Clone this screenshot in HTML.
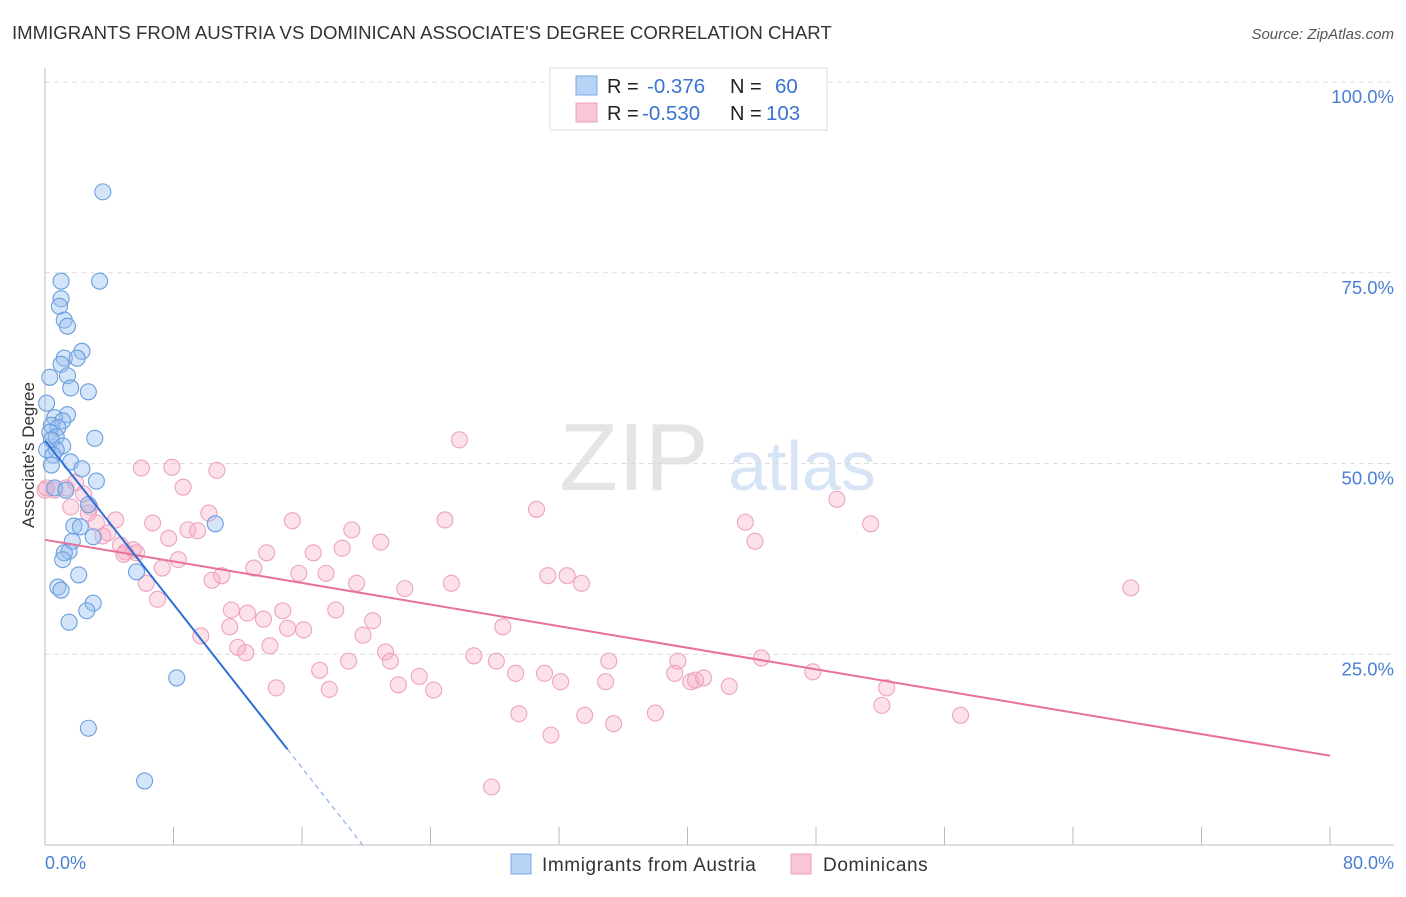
<!DOCTYPE html>
<html><head><meta charset="utf-8">
<style>
body{margin:0;background:#fff;font-family:"Liberation Sans",sans-serif;}
svg text{font-family:"Liberation Sans",sans-serif;}
</style></head>
<body>
<svg id="chart" width="1406" height="892" xmlns="http://www.w3.org/2000/svg">
<text x="12" y="39" font-size="18.6" fill="#333">IMMIGRANTS FROM AUSTRIA VS DOMINICAN ASSOCIATE'S DEGREE CORRELATION CHART</text>
<text x="1394" y="39" font-size="15" fill="#555" font-style="italic" text-anchor="end">Source: ZipAtlas.com</text>
<g>
<text x="634" y="490" font-size="96" fill="#e4e4e4" font-family="Liberation Serif" text-anchor="middle">ZIP</text>
<text x="802" y="490" font-size="70" fill="#d6e4f5" text-anchor="middle">atlas</text>
</g>
<g id="grid"></g>
<g id="axes"></g>
<g id="pinkPts"></g>
<g id="bluePts"></g>
<g id="lines"></g>
<text transform="translate(34,455) rotate(-90)" font-size="17" fill="#333" text-anchor="middle">Associate's Degree</text>
<text x="45" y="869" font-size="18" fill="#4a7fd4">0.0%</text>
<text x="1394" y="869" font-size="18" fill="#4a7fd4" text-anchor="end">80.0%</text>
<g>
<rect x="550" y="68" width="277" height="62" fill="#fff" stroke="#ddd"/>
<rect x="576" y="76" width="21" height="19" fill="#b8d3f5" stroke="#7aaae6"/>
<rect x="576" y="103" width="21" height="19" fill="#f9c6d6" stroke="#eca0bb"/>
<text x="607" y="93" font-size="20" fill="#222">R =</text>
<text x="647" y="93" font-size="20.5" fill="#3a74d0">-0.376</text>
<text x="730" y="93" font-size="20" fill="#222">N =</text>
<text x="775" y="93" font-size="20.5" fill="#3a74d0">60</text>
<text x="607" y="120" font-size="20" fill="#222">R =</text>
<text x="642" y="120" font-size="20.5" fill="#3a74d0">-0.530</text>
<text x="730" y="120" font-size="20" fill="#222">N =</text>
<text x="766" y="120" font-size="20.5" fill="#3a74d0">103</text>
</g>
<g>
<rect x="511" y="854" width="20" height="20" fill="#b8d3f5" stroke="#7aaae6"/>
<text x="542" y="871" font-size="19" letter-spacing="0.6" fill="#333">Immigrants from Austria</text>
<rect x="791" y="854" width="20" height="20" fill="#f9c6d6" stroke="#eca0bb"/>
<text x="823" y="871" font-size="19" letter-spacing="0.6" fill="#333">Dominicans</text>
</g>
</svg>
<script>
const yTicks=[25,50,75,100];
const xTicks=[0,8,16,24,32,40,48,56,64,72,80];
const blueX=[3.6,3.4,1.0,1.0,0.9,1.2,1.4,2.3,1.2,2.0,1.0,1.4,0.3,1.6,2.7,0.1,1.4,0.6,1.1,0.4,0.8,0.3,0.7,3.1,0.4,1.1,0.7,0.1,0.5,1.6,0.4,2.3,3.2,0.6,1.3,2.7,10.6,1.8,2.2,3.0,1.7,1.5,1.2,1.1,2.1,5.7,0.8,1.0,3.0,2.6,1.5,8.2,2.7,6.2];
const blueY=[85.6,73.9,73.9,71.6,70.6,68.8,68.0,64.7,63.8,63.8,63.0,61.5,61.3,59.9,59.4,57.9,56.4,56.0,55.6,55.0,54.7,54.1,53.5,53.3,53.1,52.3,51.8,51.8,51.1,50.2,49.8,49.3,47.7,46.8,46.5,44.6,42.1,41.8,41.7,40.4,39.8,38.5,38.3,37.4,35.4,35.8,33.8,33.4,31.7,30.7,29.2,21.9,15.3,8.4];
const pinkX=[0,0.6,1.3,1.9,0.1,2.4,2.8,1.6,2.7,3.2,4.4,3.9,3.6,4.7,5.0,5.5,5.7,4.9,6.0,7.9,10.7,8.6,6.7,7.7,8.9,9.5,10.2,8.3,7.3,6.3,7.0,10.4,11.0,13.0,13.8,15.4,11.6,12.6,11.5,13.6,14.8,15.1,16.1,9.7,12.0,12.5,14.0,14.4,15.8,16.7,17.5,18.5,19.1,19.4,20.9,22.4,18.1,20.4,19.8,17.1,18.9,17.7,21.2,21.5,22.0,23.3,24.2,24.9,25.3,25.8,26.7,28.1,28.5,29.3,29.5,30.6,27.8,31.1,31.3,31.5,32.1,32.5,33.4,33.6,34.9,35.1,35.4,38.0,39.2,39.4,40.2,40.5,41.0,42.6,43.6,44.2,44.6,47.8,49.3,51.4,52.1,52.4,57.0,67.6];
const pinkY=[46.5,46.5,46.8,47.5,46.8,46.0,44.3,44.3,43.5,42.2,42.6,40.9,40.5,39.3,38.4,38.7,38.3,38.1,49.4,49.5,49.1,46.9,42.2,40.2,41.3,41.2,43.5,37.4,36.3,34.3,32.2,34.7,35.3,36.3,38.3,42.5,30.8,30.4,28.6,29.6,30.7,28.4,28.2,27.4,25.9,25.2,26.1,20.6,35.6,38.3,35.6,38.9,41.3,34.3,39.7,33.6,30.8,29.4,27.5,22.9,24.1,20.4,25.3,24.1,21.0,22.1,20.3,42.6,34.3,53.1,24.8,24.1,28.6,22.5,17.2,44.0,7.6,22.5,35.3,14.4,21.4,35.3,34.3,17.0,21.4,24.1,15.9,17.3,22.5,24.1,21.4,21.6,21.9,20.8,42.3,39.8,24.5,22.7,45.3,42.1,18.3,20.6,17.0,33.7];
const blueLine=[53,-2.68];   // intercept, slope (% per %)
const pinkLine=[40.0,11.7];  // y at x=0, y at x=80
const NS="http://www.w3.org/2000/svg";
const X=v=>45+v*(1330-45)/80;
const Y=v=>845-v*(845-82)/100;
function mk(parent,tag,attrs){const e=document.createElementNS(NS,tag);for(const k in attrs)e.setAttribute(k,attrs[k]);document.getElementById(parent).appendChild(e);return e;}
yTicks.forEach(t=>{
 const g=mk('grid','line',{x1:45,x2:1394,y1:Y(t),y2:Y(t),stroke:'#ddd','stroke-dasharray':'5,4'});
 
 
 const l=mk('grid','text',{x:1394,y:Y(t)+21,'font-size':18.5,fill:'#4a7fd4','text-anchor':'end'});
 l.textContent=t.toFixed(1)+'%';
 
 
});
const ax=mk('axes','line',{x1:45,x2:45,y1:68,y2:845,stroke:'#bbb'});


const axx=mk('axes','line',{x1:45,x2:1394,y1:845,y2:845,stroke:'#bbb'});


xTicks.forEach(t=>{
 const e=mk('axes','line',{x1:X(t),x2:X(t),y1:827,y2:845,stroke:'#bbb'});
 
 
});
pinkX.forEach((x,i)=>{
 const c=mk('pinkPts','circle',{cx:X(x),cy:Y(pinkY[i]),r:8,fill:'rgba(245,170,195,0.35)',stroke:'#eea3bf','stroke-width':1.1});
 
 
});
blueX.forEach((x,i)=>{
 const c=mk('bluePts','circle',{cx:X(x),cy:Y(blueY[i]),r:8,fill:'rgba(150,190,240,0.4)',stroke:'#6a9edf','stroke-width':1.1});
 
 
});
const pl=mk('lines','line',{x1:X(0),y1:Y(pinkLine[0]),x2:X(80),y2:Y(pinkLine[1]),stroke:'#e8709a','stroke-width':2});


const xe=15.1, xz=-blueLine[0]/blueLine[1];
const bl=mk('lines','line',{x1:X(0),y1:Y(blueLine[0]),x2:X(xe),y2:Y(blueLine[0]+blueLine[1]*xe),stroke:'#2f6fd6','stroke-width':2});


const bd=mk('lines','line',{x1:X(xe),y1:Y(blueLine[0]+blueLine[1]*xe),x2:X(xz),y2:Y(0),stroke:'#8fb2e6','stroke-width':1.2,'stroke-dasharray':'5,4'});


</script>
</body></html>
